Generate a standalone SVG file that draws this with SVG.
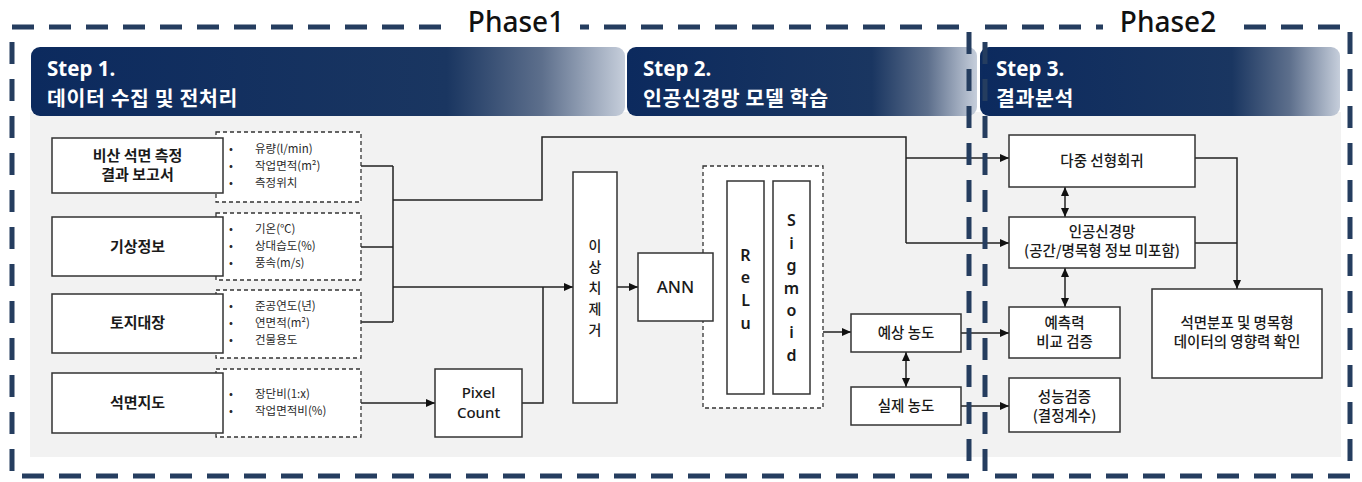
<svg xmlns="http://www.w3.org/2000/svg" width="1362" height="482" viewBox="0 0 1362 482">
<defs>
<linearGradient id="hdr" x1="0" y1="0" x2="1" y2="0">
<stop offset="0" stop-color="#0c2a5e"/>
<stop offset="0.7" stop-color="#1a3661"/>
<stop offset="0.86" stop-color="#5d6f8c"/>
<stop offset="1" stop-color="#c6cedb"/>
</linearGradient>
<marker id="ah" markerWidth="9" markerHeight="8" refX="9" refY="4" orient="auto" markerUnits="userSpaceOnUse">
<path d="M0,0 L9,4 L0,8 Z" fill="#111"/>
</marker>
<marker id="as" markerWidth="9" markerHeight="8" refX="0" refY="4" orient="auto" markerUnits="userSpaceOnUse">
<path d="M9,0 L0,4 L9,8 Z" fill="#111"/>
</marker>
<style>
.box{fill:#fff;stroke:#333;stroke-width:1.5}
.dbox{fill:#fff;stroke:#333;stroke-width:1.3;stroke-dasharray:4 3}
.ln{fill:none;stroke:#222;stroke-width:1.5}
.lbl{font-family:"Noto Sans CJK KR","Noto Sans",sans-serif;font-size:15px;font-weight:700;fill:#1a1a1a;text-anchor:middle}
.lbr{font-family:"Noto Sans CJK KR","Noto Sans",sans-serif;font-size:14.5px;font-weight:500;fill:#1a1a1a;text-anchor:middle}
.bul{font-family:"Noto Sans CJK KR","Noto Sans",sans-serif;font-size:11.5px;fill:#2a2a2a}
.en{font-family:"Noto Sans","Noto Sans CJK KR",sans-serif;font-size:16px;font-weight:600;fill:#1a1a1a;text-anchor:middle}
.hd{font-family:"Noto Sans CJK KR","Noto Sans",sans-serif;font-size:20.5px;font-weight:700;fill:#fff;letter-spacing:0.6px}
.hs{font-family:"Noto Sans","Noto Sans CJK KR",sans-serif;font-size:20.5px;font-weight:700;fill:#fff}
.ph{font-family:"Noto Sans","Noto Sans CJK KR",sans-serif;font-size:28px;font-weight:500;fill:#111;text-anchor:middle}
.frame{fill:none;stroke:#253d5f;stroke-width:5;stroke-dasharray:22 15}
</style>
</defs>
<rect width="1362" height="482" fill="#fff"/>
<rect x="30" y="112" width="1311" height="345" fill="#f2f2f2"/>

<g id="step1"><rect x="31" y="47" width="594" height="69" rx="9" fill="url(#hdr)"/><text class="hs" x="47" y="76">Step 1.</text><text class="hd" x="47" y="106">데이터 수집 및 전처리</text></g>
<g id="step2"><rect x="627" y="47" width="350" height="69" rx="9" fill="url(#hdr)"/><text class="hs" x="643" y="76">Step 2.</text><text class="hd" x="643" y="106">인공신경망 모델 학습</text></g>
<g id="step3"><rect x="980" y="47" width="360" height="69" rx="9" fill="url(#hdr)"/><text class="hs" x="996" y="76">Step 3.</text><text class="hd" x="996" y="106">결과분석</text></g>

<g id="connectors">
<path class="ln" d="M361,166 H393 M361,247 H393 M361,322 H393 M393,166 V322"/>
<path class="ln" d="M393,200 H542 V137 H906 V243"/>
<path class="ln" d="M906,158 H1009" marker-end="url(#ah)"/>
<path class="ln" d="M906,243 H1009" marker-end="url(#ah)"/>
<path class="ln" d="M393,287 H573" marker-end="url(#ah)"/>
<path class="ln" d="M522,403 H543 V287"/>
<path class="ln" d="M361,403 H435" marker-end="url(#ah)"/>
<path class="ln" d="M617,287 H638" marker-end="url(#ah)"/>
<path class="ln" d="M823,332 H851" marker-end="url(#ah)"/>
<path class="ln" d="M906,352 V387" marker-start="url(#as)" marker-end="url(#ah)"/>
<path class="ln" d="M961,333 H1009" marker-end="url(#ah)"/>
<path class="ln" d="M961,406 H1009" marker-end="url(#ah)"/>
<path class="ln" d="M1065,187 V217" marker-start="url(#as)" marker-end="url(#ah)"/>
<path class="ln" d="M1065,268 V307" marker-start="url(#as)" marker-end="url(#ah)"/>
<path class="ln" d="M1195,158 H1237 V289" marker-end="url(#ah)"/>
<path class="ln" d="M1195,243 H1237"/>
</g>

<g id="report">
<rect class="dbox" x="216" y="132" width="145" height="70"/>
<rect class="box" x="52" y="138" width="171" height="55"/>
<text class="lbl" x="137.5" y="161">비산 석면 측정</text>
<text class="lbl" x="137.5" y="180">결과 보고서</text>
<g class="bul"><text x="229" y="153">•</text><text x="255" y="153">유량(l/min)</text><text x="229" y="170">•</text><text x="255" y="170">작업면적(m²)</text><text x="229" y="187">•</text><text x="255" y="187">측정위치</text></g>
</g>
<g id="weather">
<rect class="dbox" x="216" y="213" width="145" height="67"/>
<rect class="box" x="52" y="217" width="171" height="59"/>
<text class="lbl" x="137.5" y="252">기상정보</text>
<g class="bul"><text x="229" y="233">•</text><text x="255" y="233">기온(℃)</text><text x="229" y="250">•</text><text x="255" y="250">상대습도(%)</text><text x="229" y="267">•</text><text x="255" y="267">풍속(m/s)</text></g>
</g>
<g id="land">
<rect class="dbox" x="216" y="290" width="145" height="68"/>
<rect class="box" x="52" y="294" width="171" height="59"/>
<text class="lbl" x="137.5" y="328">토지대장</text>
<g class="bul"><text x="229" y="310">•</text><text x="255" y="310">준공연도(년)</text><text x="229" y="327">•</text><text x="255" y="327">연면적(m²)</text><text x="229" y="344">•</text><text x="255" y="344">건물용도</text></g>
</g>
<g id="map">
<rect class="dbox" x="216" y="369" width="145" height="68"/>
<rect class="box" x="52" y="373" width="171" height="60"/>
<text class="lbl" x="137.5" y="408">석면지도</text>
<g class="bul"><text x="229" y="398">•</text><text x="255" y="398">장단비(1:x)</text><text x="229" y="415">•</text><text x="255" y="415">작업면적비(%)</text></g>
</g>
<g id="pixel">
<rect class="box" x="435" y="369" width="87" height="68"/>
<text class="en" x="478.5" y="398" style="font-weight:500;font-size:15px">Pixel</text>
<text class="en" x="478.5" y="418" style="font-weight:500;font-size:15px">Count</text>
</g>
<g id="outlier">
<rect class="box" x="573" y="172" width="44" height="231"/>
<g class="lbl" style="font-size:14px;font-weight:500"><text x="595" y="251">이</text><text x="595" y="272">상</text><text x="595" y="293">치</text><text x="595" y="314">제</text><text x="595" y="335">거</text></g>
</g>
<g id="activation">
<rect class="dbox" x="703" y="166" width="120" height="242" fill="#fff"/>
<rect class="box" x="727" y="181" width="37" height="213"/>
<rect class="box" x="773" y="181" width="37" height="213"/>
<g class="en"><text x="745.5" y="261">R</text><text x="745.5" y="283">e</text><text x="745.5" y="306">L</text><text x="745.5" y="329">u</text></g>
<g class="en"><text x="791.5" y="226">S</text><text x="791.5" y="249">i</text><text x="791.5" y="271">g</text><text x="791.5" y="294">m</text><text x="791.5" y="316">o</text><text x="791.5" y="338">i</text><text x="791.5" y="361">d</text></g>
</g>
<g id="ann">
<rect class="box" x="638" y="253" width="75" height="68"/>
<text class="en" x="675.5" y="293" style="font-size:17px;font-weight:500">ANN</text>
</g>
<g id="pred"><rect class="box" x="851" y="314" width="110" height="38"/><text class="lbr" x="906" y="338">예상 농도</text></g>
<g id="actual"><rect class="box" x="851" y="387" width="110" height="38"/><text class="lbr" x="906" y="411">실제 농도</text></g>
<g id="mlr"><rect class="box" x="1009" y="135" width="186" height="52"/><text class="lbr" x="1102" y="166">다중 선형회귀</text></g>
<g id="nn"><rect class="box" x="1009" y="217" width="186" height="51"/><text class="lbr" x="1102" y="237">인공신경망</text><text class="lbr" x="1102" y="256">(공간/명목형 정보 미포함)</text></g>
<g id="compare"><rect class="box" x="1009" y="307" width="111" height="51"/><text class="lbr" x="1064.5" y="328">예측력</text><text class="lbr" x="1064.5" y="347">비교 검증</text></g>
<g id="perf"><rect class="box" x="1009" y="378" width="111" height="54"/><text class="lbr" x="1064.5" y="402">성능검증</text><text class="lbr" x="1064.5" y="421">(결정계수)</text></g>
<g id="influence"><rect class="box" x="1152" y="289" width="170" height="89"/><text class="lbr" x="1237" y="328">석면분포 및 명목형</text><text class="lbr" x="1237" y="347">데이터의 영향력 확인</text></g>

<g id="phases">
<rect class="frame" x="12" y="27" width="957" height="449"/>
<rect class="frame" x="985" y="27" width="365" height="449"/>
<rect x="452" y="2" width="128" height="42" fill="#fff"/>
<text class="ph" x="516" y="32">Phase1</text>
<rect x="1103" y="2" width="130" height="42" fill="#fff"/>
<text class="ph" x="1168" y="32">Phase2</text>
</g>
</svg>
